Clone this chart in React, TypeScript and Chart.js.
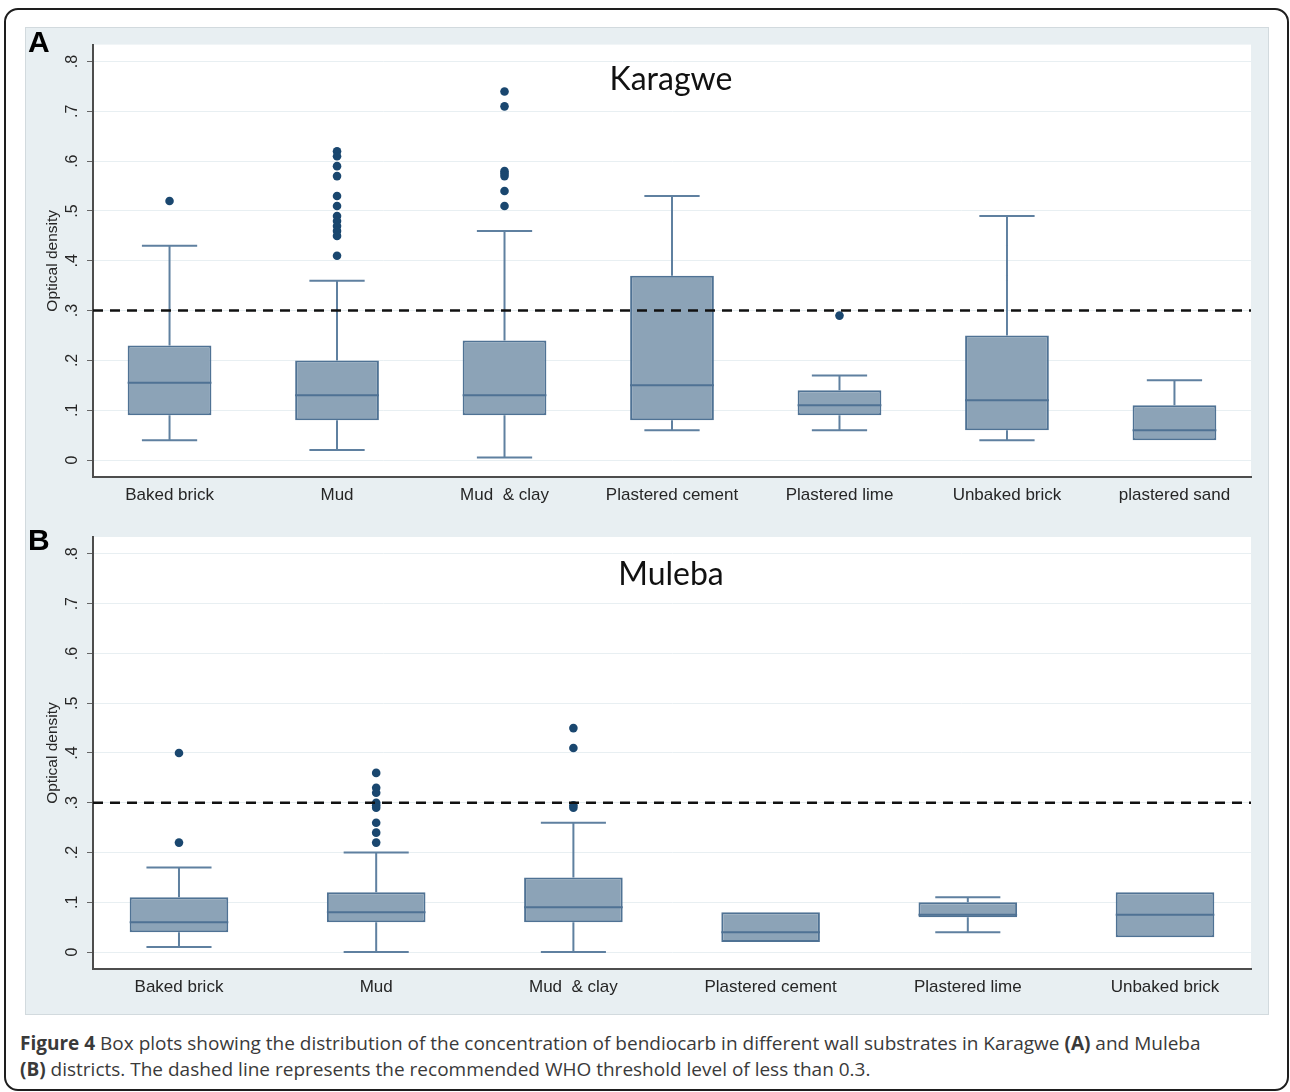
import React, { useEffect, useRef } from 'react';
import { Chart, registerables } from 'chart.js';

Chart.register(...registerables);

// ---------- data ----------
const categoriesA = ['Baked brick', 'Mud', 'Mud  & clay', 'Plastered cement', 'Plastered lime', 'Unbaked brick', 'plastered sand'];
const lowA = [0.04, 0.02, 0.005, 0.06, 0.06, 0.04, 0.04];
const q1A = [0.09, 0.08, 0.09, 0.08, 0.09, 0.06, 0.04];
const medA = [0.155, 0.13, 0.13, 0.15, 0.11, 0.12, 0.06];
const q3A = [0.23, 0.2, 0.24, 0.37, 0.14, 0.25, 0.11];
const highA = [0.43, 0.36, 0.46, 0.53, 0.17, 0.49, 0.16];
const outliersA = [
  [0.52],
  [0.62, 0.61, 0.59, 0.57, 0.53, 0.51, 0.49, 0.48, 0.47, 0.46, 0.45, 0.41],
  [0.74, 0.71, 0.58, 0.575, 0.57, 0.54, 0.51],
  [],
  [0.29],
  [],
  [],
];

const categoriesB = ['Baked brick', 'Mud', 'Mud  & clay', 'Plastered cement', 'Plastered lime', 'Unbaked brick'];
const lowB = [0.01, 0, 0, 0.02, 0.04, 0.03];
const q1B = [0.04, 0.06, 0.06, 0.02, 0.07, 0.03];
const medB = [0.06, 0.08, 0.09, 0.04, 0.075, 0.075];
const q3B = [0.11, 0.12, 0.15, 0.08, 0.1, 0.12];
const highB = [0.17, 0.2, 0.26, 0.08, 0.11, 0.12];
const outliersB = [
  [0.4, 0.22],
  [0.36, 0.33, 0.32, 0.3, 0.295, 0.29, 0.26, 0.24, 0.22],
  [0.45, 0.41, 0.295, 0.29],
  [],
  [],
  [],
];

const yTickValues = [0, 0.1, 0.2, 0.3, 0.4, 0.5, 0.6, 0.7, 0.8];
const yTickLabels = ['0', '.1', '.2', '.3', '.4', '.5', '.6', '.7', '.8'];
const threshold = 0.3;

// ---------- styles ----------
const FONT = "'Liberation Sans', Arial, sans-serif";
const TEXT = '#262626';
const FILL = '#8ca3b7';
const EDGE = '#4f7294';
const WHISK = '#5f80a0';
const DOT = '#1a476f';
const GRID = '#e8eff2';
const AXIS = '#4d4d4d';
const BOX_HALF = 0.25;
const CAP_HALF = 0.165;

type PanelData = {
  categories: string[];
  low: number[];
  q1: number[];
  med: number[];
  q3: number[];
  high: number[];
  outliers: number[][];
};

const panelA: PanelData = { categories: categoriesA, low: lowA, q1: q1A, med: medA, q3: q3A, high: highA, outliers: outliersA };
const panelB: PanelData = { categories: categoriesB, low: lowB, q1: q1B, med: medB, q3: q3B, high: highB, outliers: outliersB };

const plotBg = {
  id: 'plotBg',
  beforeDraw(chart: any) {
    const { ctx, chartArea } = chart;
    ctx.save();
    ctx.fillStyle = '#ffffff';
    ctx.fillRect(chartArea.left, chartArea.top, chartArea.right - chartArea.left, chartArea.bottom - chartArea.top);
    ctx.restore();
  },
};

function makeConfig(d: PanelData, xMin: number, xMax: number, padTop: number, xAxisH: number): any {
  const idx = d.categories.map((_, i) => i);
  const whiskers: any[] = [];
  const caps: any[] = [];
  const medians: any[] = [];
  const outs: any[] = [];
  idx.forEach((i) => {
    if (d.high[i] > d.q3[i]) {
      whiskers.push({ x: i, y: d.q3[i] }, { x: i, y: d.high[i] }, { x: i, y: null });
      caps.push({ x: i - CAP_HALF, y: d.high[i] }, { x: i + CAP_HALF, y: d.high[i] }, { x: i, y: null });
    }
    if (d.low[i] < d.q1[i]) {
      whiskers.push({ x: i, y: d.q1[i] }, { x: i, y: d.low[i] }, { x: i, y: null });
      caps.push({ x: i - CAP_HALF, y: d.low[i] }, { x: i + CAP_HALF, y: d.low[i] }, { x: i, y: null });
    }
    medians.push({ x: i - BOX_HALF, y: d.med[i] }, { x: i + BOX_HALF, y: d.med[i] }, { x: i, y: null });
    d.outliers[i].forEach((v) => outs.push({ x: i, y: v }));
  });

  const lineBase = { type: 'line', pointRadius: 0, fill: false, tension: 0, spanGaps: false, borderCapStyle: 'butt' };

  return {
    type: 'bar',
    data: {
      datasets: [
        { ...lineBase, data: whiskers, borderColor: WHISK, borderWidth: 2, order: 3 },
        { ...lineBase, data: caps, borderColor: WHISK, borderWidth: 2, order: 3 },
        {
          type: 'bar',
          data: idx.map((i) => ({ x: i, y: [d.q1[i], d.q3[i]] })),
          backgroundColor: FILL,
          borderColor: EDGE,
          borderWidth: 2,
          borderSkipped: false,
          categoryPercentage: 1,
          barPercentage: 2 * BOX_HALF,
          order: 2,
        },
        { ...lineBase, data: medians, borderColor: EDGE, borderWidth: 2, order: 1 },
        {
          type: 'scatter',
          data: outs,
          pointRadius: 4.3,
          pointBackgroundColor: DOT,
          pointBorderWidth: 0,
          backgroundColor: DOT,
          borderWidth: 0,
          order: 1,
        },
        {
          ...lineBase,
          data: [{ x: xMin, y: threshold }, { x: xMax, y: threshold }],
          borderColor: '#111111',
          borderWidth: 2.5,
          borderDash: [10, 7],
          order: 0,
        },
      ],
    },
    options: {
      responsive: false,
      animation: false,
      devicePixelRatio: 1,
      layout: { padding: { top: padTop, right: 17, bottom: 0, left: 0 } },
      plugins: { legend: { display: false }, tooltip: { enabled: false }, title: { display: false } },
      scales: {
        x: {
          type: 'linear',
          min: xMin,
          max: xMax,
          bounds: 'data',
          offset: false,
          afterBuildTicks: (ax: any) => {
            ax.ticks = idx.map((v) => ({ value: v }));
          },
          afterFit: (ax: any) => {
            ax.height = xAxisH;
          },
          grid: { display: false, drawTicks: false, offset: false },
          border: { display: true, color: AXIS, width: 2 },
          ticks: {
            autoSkip: false,
            minRotation: 0,
            maxRotation: 0,
            padding: 8,
            color: TEXT,
            font: { family: FONT, size: 17 },
            callback: (v: any) => d.categories[v] ?? '',
          },
        },
        y: {
          type: 'linear',
          min: -0.034,
          max: 0.834,
          bounds: 'data',
          afterBuildTicks: (ax: any) => {
            ax.ticks = yTickValues.map((v) => ({ value: v }));
          },
          afterFit: (ax: any) => {
            ax.width = 68;
          },
          grid: { color: GRID, lineWidth: 1, tickColor: '#666666', tickLength: 6, drawTicks: true },
          border: { display: true, color: AXIS, width: 2 },
          ticks: {
            autoSkip: false,
            minRotation: 90,
            maxRotation: 90,
            crossAlign: 'center',
            padding: 8,
            color: TEXT,
            font: { family: FONT, size: 16 },
            callback: (_v: any, i: number) => yTickLabels[i],
          },
          title: {
            display: true,
            text: 'Optical density',
            color: TEXT,
            font: { family: FONT, size: 15.5 },
            padding: { top: 18.7, bottom: 0 },
          },
        },
      },
    },
    plugins: [plotBg],
  };
}

function Panel(props: { data: PanelData; xMin: number; xMax: number; top: number; height: number; padTop: number; xAxisH: number }) {
  const ref = useRef<HTMLCanvasElement>(null);
  useEffect(() => {
    const chart = new Chart(ref.current as HTMLCanvasElement, makeConfig(props.data, props.xMin, props.xMax, props.padTop, props.xAxisH));
    return () => chart.destroy();
  }, []);
  return (
    <canvas
      ref={ref}
      width={1243}
      height={props.height}
      style={{ position: 'absolute', left: 25, top: props.top, width: 1243, height: props.height }}
    />
  );
}

const titleStyle: React.CSSProperties = {
  position: 'absolute',
  left: 471,
  width: 400,
  textAlign: 'center',
  fontFamily: "Lato, 'Open Sans', sans-serif",
  fontSize: 32,
  lineHeight: 1.2,
  color: '#111',
  whiteSpace: 'nowrap',
};

const letterStyle: React.CSSProperties = {
  position: 'absolute',
  left: 28,
  fontFamily: FONT,
  fontWeight: 'bold',
  fontSize: 30,
  lineHeight: '36px',
  color: '#000',
};

export default function App() {
  return (
    <div style={{ position: 'absolute', left: 0, top: 0, width: 1290, height: 1092, background: '#fff', overflow: 'hidden' }}>
      <div
        style={{
          position: 'absolute',
          left: 4,
          top: 8,
          width: 1285,
          height: 1083,
          border: '2px solid #1e1e1e',
          borderRadius: 14,
          boxSizing: 'border-box',
        }}
      />
      <div
        style={{
          position: 'absolute',
          left: 25,
          top: 27,
          width: 1244,
          height: 988,
          background: '#e8eff2',
          border: '1px solid #d2dade',
          boxSizing: 'border-box',
        }}
      />
      <Panel data={panelA} xMin={-0.457} xMax={6.457} top={27} height={490} padTop={17} xAxisH={40} />
      <Panel data={panelB} xMin={-0.436} xMax={5.436} top={517} height={498} padTop={20} xAxisH={46} />
      <div style={{ ...titleStyle, top: 59 }}>Karagwe</div>
      <div style={{ ...titleStyle, top: 554 }}>Muleba</div>
      <div style={{ ...letterStyle, top: 24 }}>A</div>
      <div style={{ ...letterStyle, top: 522 }}>B</div>
      <div
        style={{
          position: 'absolute',
          left: 20,
          top: 1030,
          fontFamily: "'Open Sans', sans-serif",
          fontSize: 19,
          lineHeight: '26px',
          color: '#3a3a3a',
          whiteSpace: 'nowrap',
        }}
      >
        <b>Figure 4</b> Box plots showing the distribution of the concentration of bendiocarb in different wall substrates in Karagwe <b>(A)</b> and Muleba
        <br />
        <b>(B)</b> districts. The dashed line represents the recommended WHO threshold level of less than 0.3.
      </div>
    </div>
  );
}
